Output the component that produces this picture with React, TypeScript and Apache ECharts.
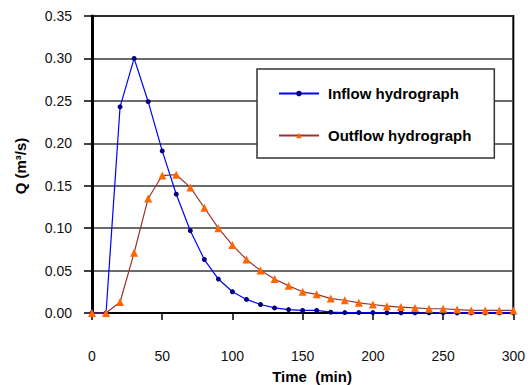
import React, { useEffect, useRef } from "react";
import * as echarts from "echarts";

const times: number[] = [0, 10, 20, 30, 40, 50, 60, 70, 80, 90, 100, 110, 120, 130, 140, 150, 160, 170, 180, 190, 200, 210, 220, 230, 240, 250, 260, 270, 280, 290, 300];
const inflow: number[] = [0, 0, 0.243, 0.3, 0.249, 0.191, 0.14, 0.097, 0.063, 0.04, 0.025, 0.016, 0.01, 0.006, 0.004, 0.003, 0.003, 0.001, 0.0005, 0.0005, 0.0005, 0.0003, 0.0003, 0.0002, 0.0002, 0.0002, 0.0001, 0.0001, 0.0001, 0.0001, 0.0001];
const outflow: number[] = [0, 0, 0.013, 0.071, 0.135, 0.162, 0.163, 0.148, 0.124, 0.1, 0.08, 0.063, 0.05, 0.04, 0.032, 0.025, 0.022, 0.017, 0.015, 0.012, 0.01, 0.008, 0.007, 0.006, 0.005, 0.005, 0.004, 0.003, 0.003, 0.003, 0.003];
const seriesNames: string[] = ["Inflow hydrograph", "Outflow hydrograph"];
const xTitle = "Time  (min)";
const yTitle = "Q (m³/s)";

const FONT = "'Liberation Sans', Arial, sans-serif";

export default function App() {
  const ref = useRef<HTMLDivElement>(null);
  useEffect(() => {
    document.body.style.margin = "0";
    if (!ref.current) return;
    const chart = echarts.init(ref.current, null, { renderer: "svg" });
    const pairs = (ys: number[]) => times.map((t, i) => [t, ys[i]]);
    chart.setOption({
      animation: false,
      backgroundColor: "#fff",
      textStyle: { fontFamily: FONT },
      grid: {
        left: 92,
        right: 11,
        top: 16,
        bottom: 72,
        show: true,
        borderColor: "#000",
        borderWidth: 2,
        backgroundColor: "transparent",
      },
      xAxis: {
        type: "value",
        min: 0,
        max: 300,
        interval: 50,
        axisLine: { show: true, lineStyle: { color: "#000", width: 2 } },
        axisTick: { show: true, inside: false, length: 7, lineStyle: { color: "#000", width: 1.5 } },
        axisLabel: { color: "#111", fontSize: 14, margin: 36, fontFamily: FONT },
        splitLine: { show: false },
      },
      yAxis: {
        type: "value",
        min: 0,
        max: 0.35,
        interval: 0.05,
        axisLine: { show: true, lineStyle: { color: "#000", width: 3 } },
        axisTick: { show: true, inside: false, length: 8, lineStyle: { color: "#000", width: 1.5 } },
        axisLabel: {
          color: "#111",
          fontSize: 14,
          margin: 20,
          fontFamily: FONT,
          formatter: (v: number) => v.toFixed(2),
        },
        splitLine: { show: true, lineStyle: { color: "#3a3a3a", width: 1.5 } },
      },
      legend: {
        orient: "vertical",
        left: 257,
        top: 69,
        padding: [17, 23, 15, 21],
        itemGap: 27,
        itemWidth: 40,
        itemHeight: 7,
        backgroundColor: "#fff",
        borderColor: "#333",
        borderWidth: 1.5,
        textStyle: { fontSize: 15, fontWeight: "bold", color: "#000", fontFamily: FONT, padding: [0, 0, 0, 4] },
        data: seriesNames,
      },
      series: [
        {
          name: seriesNames[0],
          type: "line",
          data: pairs(inflow),
          symbol: "circle",
          symbolSize: 5,
          clip: false,
          lineStyle: { color: "#0000ff", width: 1.2 },
          itemStyle: { color: "#000080" },
          z: 3,
        },
        {
          name: seriesNames[1],
          type: "line",
          data: pairs(outflow),
          symbol: "triangle",
          symbolSize: 8,
          clip: false,
          lineStyle: { color: "#993333", width: 1.2 },
          itemStyle: { color: "#ff6600" },
          z: 4,
        },
      ],
      graphic: [
        {
          type: "text",
          x: 312,
          y: 376,
          style: {
            text: xTitle,
            fontSize: 15,
            fontWeight: "bold",
            fontFamily: FONT,
            fill: "#000",
            textAlign: "center",
            textVerticalAlign: "middle",
          },
        },
        {
          type: "text",
          x: 20,
          y: 166,
          rotation: Math.PI / 2,
          style: {
            text: yTitle,
            fontSize: 15,
            fontWeight: "bold",
            fontFamily: FONT,
            fill: "#000",
            textAlign: "center",
            textVerticalAlign: "middle",
          },
        },
      ],
    });
    return () => chart.dispose();
  }, []);
  return <div ref={ref} style={{ width: 528, height: 385 }} />;
}
